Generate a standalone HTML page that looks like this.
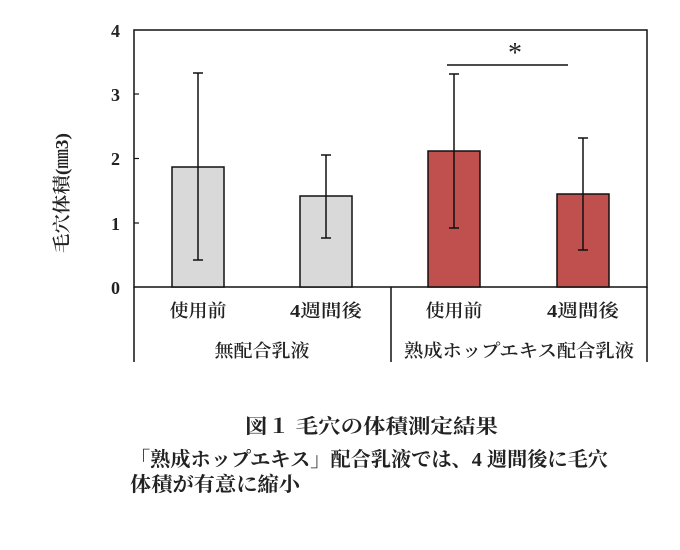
<!DOCTYPE html>
<html><head><meta charset="utf-8"><style>
body{margin:0;background:#fff;}
svg text{font-family:"Liberation Serif","Noto Serif CJK SC",serif;fill:#222;}
</style></head><body>
<svg width="680" height="545" viewBox="0 0 680 545" xmlns="http://www.w3.org/2000/svg">
<rect width="680" height="545" fill="#fff"/>
<rect x="134" y="30" width="513" height="257" fill="none" stroke="#111" stroke-width="1.5"/>
<line x1="134" y1="287" x2="134" y2="362" stroke="#111" stroke-width="1.5"/>
<line x1="647" y1="287" x2="647" y2="362" stroke="#111" stroke-width="1.5"/>
<line x1="391" y1="287" x2="391" y2="362" stroke="#111" stroke-width="1.5"/>
<g stroke="#111" stroke-width="1.2">
<line x1="134" y1="94" x2="139" y2="94"/><line x1="134" y1="158.5" x2="139" y2="158.5"/><line x1="134" y1="223" x2="139" y2="223"/>
</g>
<g font-size="18" text-anchor="end" fill="#444" font-weight="600">
<text x="120" y="37">4</text><text x="120" y="101">3</text><text x="120" y="165">2</text><text x="120" y="230">1</text><text x="120" y="294">0</text>
</g>
<text transform="translate(68,193) rotate(-90)" font-size="18" text-anchor="middle" fill="#444" font-weight="600" textLength="120" lengthAdjust="spacingAndGlyphs">毛穴体積(㎜3)</text>
<g stroke="#111" stroke-width="1.5">
<rect x="172" y="167" width="52" height="120" fill="#d9d9d9"/>
<rect x="300" y="196" width="52" height="91" fill="#d9d9d9"/>
<rect x="428" y="151" width="52" height="136" fill="#c0504d"/>
<rect x="557" y="194" width="52" height="93" fill="#c0504d"/>
</g>
<g stroke="#111" stroke-width="1.5">
<line x1="198" y1="73" x2="198" y2="260"/><line x1="193" y1="73" x2="203" y2="73"/><line x1="193" y1="260" x2="203" y2="260"/>
<line x1="326" y1="155" x2="326" y2="238"/><line x1="321" y1="155" x2="331" y2="155"/><line x1="321" y1="238" x2="331" y2="238"/>
<line x1="454" y1="74" x2="454" y2="228"/><line x1="449" y1="74" x2="459" y2="74"/><line x1="449" y1="228" x2="459" y2="228"/>
<line x1="583" y1="138" x2="583" y2="250"/><line x1="578" y1="138" x2="588" y2="138"/><line x1="578" y1="250" x2="588" y2="250"/>
<line x1="447" y1="65" x2="568" y2="65"/>
</g>
<text x="515" y="62" font-size="28" text-anchor="middle" font-family="Liberation Sans,sans-serif">*</text>
<g font-size="18" text-anchor="middle" fill="#444" font-weight="600">
<text x="198" y="317" textLength="57" lengthAdjust="spacingAndGlyphs">使用前</text><text x="326" y="317" textLength="72" lengthAdjust="spacingAndGlyphs">4週間後</text>
<text x="454" y="317" textLength="57" lengthAdjust="spacingAndGlyphs">使用前</text><text x="583" y="317" textLength="72" lengthAdjust="spacingAndGlyphs">4週間後</text>
<text x="262" y="357" textLength="95" lengthAdjust="spacingAndGlyphs">無配合乳液</text><text x="519" y="357" textLength="230" lengthAdjust="spacingAndGlyphs">熟成ホップエキス配合乳液</text>
</g>
<g font-size="20" font-weight="bold" fill="#111">
<text x="245" y="433" textLength="253" lengthAdjust="spacingAndGlyphs">図１ 毛穴の体積測定結果</text>
<text x="130" y="466" textLength="478" lengthAdjust="spacingAndGlyphs">「熟成ホップエキス」配合乳液では、4 週間後に毛穴</text>
<text x="130" y="491" textLength="170" lengthAdjust="spacingAndGlyphs">体積が有意に縮小</text>
</g>
</svg>
</body></html>
